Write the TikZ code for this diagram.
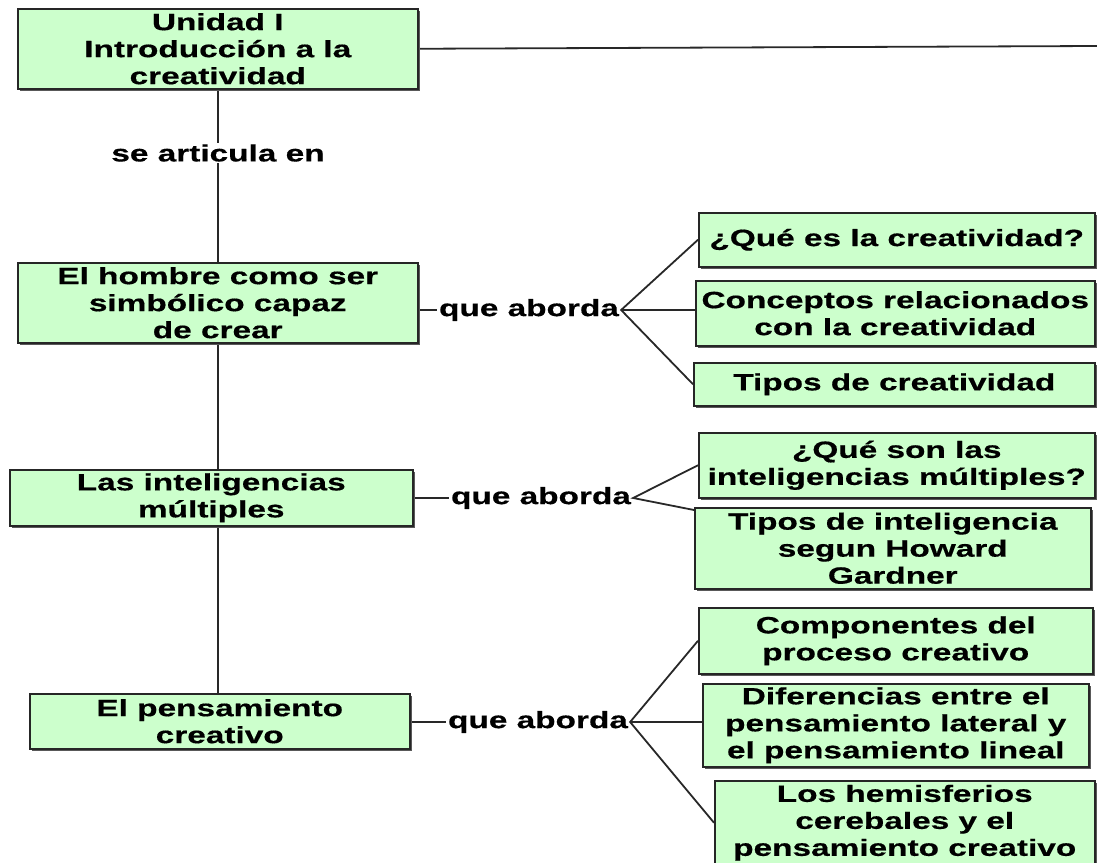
\documentclass[tikz,border=0pt]{standalone}
\usepackage{fontspec}
\newfontfamily\diagfont{Liberation Sans}[FakeStretch=1.42, BoldFeatures={FakeBold=0.5}]
\usetikzlibrary{shadows,backgrounds,calc}
\definecolor{boxgreen}{RGB}{204,255,204}
\definecolor{linegray}{RGB}{40,40,40}
\begin{document}
\begin{tikzpicture}[x=1pt,y=1pt,
  txt/.style={font=\diagfont\bfseries\fontsize{23.5}{27}\selectfont},
  box/.style={txt, draw=black!85, line width=1.5pt, fill=boxgreen, align=center,
    inner sep=0pt, anchor=north west,
    drop shadow={shadow xshift=2.5pt, shadow yshift=-2.5pt, fill=black!65, opacity=1}},
  lbl/.style={txt, inner sep=2pt},
  conn/.style={draw=linegray, line width=1.8pt}]
\useasboundingbox (0,0) rectangle (1097,-862);

% left column
\node[box, minimum width=400pt, minimum height=80pt] (b1) at (17,-8)
  {Unidad I\\Introducción a la\\creatividad};
\node[box, minimum width=400pt, minimum height=80pt] (b2) at (17,-262)
  {El hombre como ser\\simbólico capaz\\de crear};
\node[box, minimum width=403pt, minimum height=56pt] (b3) at (9,-469)
  {Las inteligencias\\múltiples};
\node[box, minimum width=380pt, minimum height=55pt] (b4) at (29,-693)
  {El pensamiento\\creativo};

% right column
\node[box, minimum width=396pt, minimum height=54pt] (c1) at (698,-212)
  {¿Qué es la creatividad?};
\node[box, minimum width=399pt, minimum height=65pt] (c2) at (695,-280)
  {Conceptos relacionados\\con la creatividad};
\node[box, minimum width=401pt, minimum height=43pt] (c3) at (693,-362)
  {Tipos de creatividad};
\node[box, minimum width=396pt, minimum height=65pt] (d1) at (698,-432)
  {¿Qué son las\\inteligencias múltiples?};
\node[box, minimum width=396pt, minimum height=81pt] (d2) at (694,-507)
  {Tipos de inteligencia\\segun Howard\\Gardner};
\node[box, minimum width=394pt, minimum height=66pt] (e1) at (698,-607)
  {Componentes del\\proceso creativo};
\node[box, minimum width=386pt, minimum height=83pt] (e2) at (702,-683)
  {Diferencias entre el\\pensamiento lateral y\\el pensamiento lineal};
\node[box, minimum width=380pt, minimum height=84pt] (e3) at (714,-780)
  {Los hemisferios\\cerebales y el\\pensamiento creativo};

% labels
\node[lbl, fill=white, inner sep=1pt] (se) at (218,-153) {se articula en};
\node[lbl] (qa1) at (529,-310) {que aborda};
\node[lbl] (qa2) at (541,-498) {que aborda};
\node[lbl] (qa3) at (538,-722) {que aborda};

\coordinate (topend) at (1097,-46);

\begin{scope}[on background layer]
  \draw[conn] (b1.south) -- (b1.south |- b4.north);
  \draw[conn] (b1.east) -- (topend);
  \draw[conn] (b2.east |- qa1.west) -- (qa1.west);
  \draw[conn] (b3.east |- qa2.west) -- (qa2.west);
  \draw[conn] (b4.east |- qa3.west) -- (qa3.west);
  \draw[conn] (c1.west) -- (qa1.east) -- (c3.west);
  \draw[conn] (qa1.east) -- (c2.west |- qa1.east);
  \draw[conn] (d1.west) -- (qa2.east) -- ($(d2.north west)+(0,-3)$);
  \draw[conn] (e1.west) -- (qa3.east) -- (e3.west);
  \draw[conn] (qa3.east) -- (e2.west |- qa3.east);
\end{scope}
\end{tikzpicture}
\end{document}
